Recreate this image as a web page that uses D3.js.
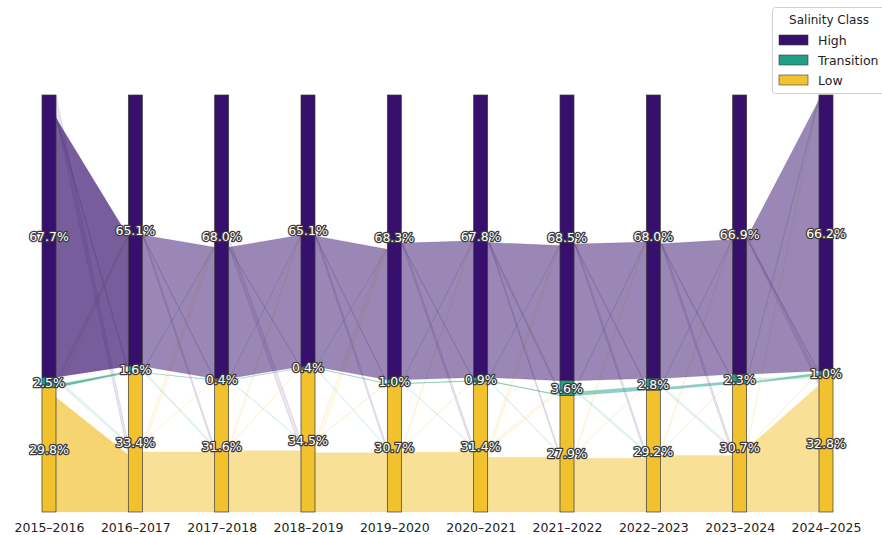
<!DOCTYPE html>
<html>
<head>
<meta charset="utf-8">
<script src="https://cdn.jsdelivr.net/npm/d3@7"></script>
<style>
  html, body { margin: 0; padding: 0; background: #fff; }
  svg { display: block; font-family: "DejaVu Sans", Arial, sans-serif; }
</style>
</head>
<body>
<svg id="chart" width="882" height="535"></svg>
<script>
// Share of area (%) in each salinity class, per hydrological year
const years = ["2015–2016", "2016–2017", "2017–2018", "2018–2019", "2019–2020",
               "2020–2021", "2021–2022", "2022–2023", "2023–2024", "2024–2025"];
const classes = ["High", "Transition", "Low"];
const highPct       = [67.7, 65.1, 68.0, 65.1, 68.3, 67.8, 68.5, 68.0, 66.9, 66.2];
const transitionPct = [2.5, 1.6, 0.4, 0.4, 1.0, 0.9, 3.6, 2.8, 2.3, 1.0];
const lowPct        = [29.8, 33.4, 31.6, 34.5, 30.7, 31.4, 27.9, 29.2, 30.7, 32.8];

// Year-to-year class changes (% of area), one row per consecutive pair:
// [H→H, H→T, H→L,  T→H, T→T, T→L,  L→H, L→T, L→L]
const transitions = [
  [62.2, 0.6, 4.9,  0.9, 0.7, 0.9,  2.0, 0.3, 27.5],
  [63.0, 0.1, 2.0,  0.5, 0.2, 0.9,  4.5, 0.1, 28.8],
  [63.0, 0.1, 4.9,  0.1, 0.1, 0.2,  2.0, 0.2, 29.4],
  [62.6, 0.3, 2.2,  0.1, 0.2, 0.1,  5.6, 0.5, 28.4],
  [65.6, 0.2, 2.5,  0.5, 0.3, 0.2,  1.7, 0.4, 28.6],
  [64.8, 1.5, 1.5,  0.3, 0.4, 0.2,  3.4, 1.7, 26.3],
  [65.5, 0.6, 2.4,  0.8, 1.8, 1.0,  1.7, 0.4, 25.8],
  [64.6, 0.8, 2.6,  0.5, 1.2, 1.1,  1.8, 0.3, 27.1],
  [65.0, 0.2, 1.7,  1.0, 0.6, 0.7,  0.2, 0.2, 30.3]
];

const colors = { High: "#36106c", Transition: "#22a087", Low: "#f2c12e" };

const svg = d3.select("#chart");
const barW = 14;

const x = d3.scalePoint().domain(years).range([49, 826]);
const y = d3.scaleLinear().domain([0, 100]).range([95, 512]);
const color = d3.scaleOrdinal().domain(classes).range(classes.map(c => colors[c]));

const series = [highPct, transitionPct, lowPct];

// Stacked segments per column (High on top), normalised to 100 %
const nodes = years.map((yr, c) => {
  const vals = series.map(s => s[c]);
  const total = d3.sum(vals);
  let acc = 0;
  return vals.map((v, k) => {
    const seg = { year: yr, col: c, k, cls: classes[k], value: v,
                  y0: y(acc / total * 100), y1: y((acc + v) / total * 100),
                  out: [], in: [] };
    acc += v;
    return seg;
  });
});

// Links between consecutive columns
const links = [];
transitions.forEach((row, p) => {
  for (let i = 0; i < 3; i++) {
    for (let j = 0; j < 3; j++) {
      const link = { pair: p, s: nodes[p][i], t: nodes[p + 1][j], value: row[i * 3 + j] };
      links.push(link);
      nodes[p][i].out.push(link);
      nodes[p + 1][j].in.push(link);
    }
  }
});

// Within each segment, flows stack upward from the segment's bottom edge,
// the same-class flow first; a segment's height is shared by in- and outflow.
nodes.flat().forEach(n => {
  const through = d3.sum(n.out, l => l.value) + d3.sum(n.in, l => l.value);
  const scale = (n.y1 - n.y0) / through;
  const order = arr => arr.slice().sort((a, b) => {
    const ka = (a.s === n ? a.t.k : a.s.k), kb = (b.s === n ? b.t.k : b.s.k);
    const ra = ka === n.k ? -1 : ka, rb = kb === n.k ? -1 : kb;
    return ra - rb;
  });
  let base = n.y1;
  order(n.out).forEach(l => { l.sy1 = base; base -= l.value * scale; l.sy0 = base; });
  base = n.y1;
  order(n.in).forEach(l => { l.ty1 = base; base -= l.value * scale; l.ty0 = base; });
});

const persistent = l => l.s.k === l.t.k;
const linkOpacity = l => {
  if (!persistent(l)) return 0.1;
  return l.pair === 0 ? 0.68 : 0.5;
};

// Cross-class flows under the persistent ones
const sortedLinks = links.slice().sort((a, b) => persistent(a) - persistent(b));

svg.append("g").attr("class", "links")
  .selectAll("path")
  .data(sortedLinks)
  .join("path")
  .attr("d", l => {
    const xs = x(l.s.year) + barW / 2, xt = x(l.t.year) - barW / 2;
    const p = d3.path();
    p.moveTo(xs, l.sy0);
    p.lineTo(xt, l.ty0);
    p.lineTo(xt, l.ty1);
    p.lineTo(xs, l.sy1);
    p.closePath();
    return p.toString();
  })
  .attr("fill", l => color(l.s.cls))
  .attr("fill-opacity", linkOpacity)
  .attr("stroke", l => color(l.s.cls))
  .attr("stroke-opacity", l => persistent(l) ? 0.25 : 0.22)
  .attr("stroke-width", 0.5);

// Stacked bars
svg.append("g").attr("class", "bars")
  .selectAll("rect")
  .data(nodes.flat())
  .join("rect")
  .attr("x", n => x(n.year) - barW / 2)
  .attr("y", n => n.y0)
  .attr("width", barW)
  .attr("height", n => n.y1 - n.y0)
  .attr("fill", n => color(n.cls))
  .attr("stroke", "#3a3a3a")
  .attr("stroke-width", 0.7);

// Percentage labels
svg.append("g").attr("class", "labels")
  .selectAll("text")
  .data(nodes.flat())
  .join("text")
  .attr("x", n => x(n.year))
  .attr("y", n => (n.y0 + n.y1) / 2)
  .attr("text-anchor", "middle")
  .attr("dominant-baseline", "central")
  .attr("font-size", 12.5)
  .attr("fill", "#fff")
  .attr("stroke", "#3c3c3c")
  .attr("stroke-width", 2.6)
  .attr("stroke-linejoin", "round")
  .attr("paint-order", "stroke")
  .text(n => n.value.toFixed(1) + "%");

// Year axis
const xAxis = svg.append("g")
  .attr("transform", "translate(0,512)")
  .call(d3.axisBottom(x).tickSize(0).tickPadding(11));
xAxis.select(".domain").remove();
xAxis.selectAll("text")
  .attr("font-family", "DejaVu Sans, Arial, sans-serif")
  .attr("font-size", 12.5)
  .attr("fill", "#222");

// Legend
const legend = svg.append("g").attr("class", "legend");
legend.append("rect")
  .attr("x", 772.5).attr("y", 7.5).attr("width", 120).attr("height", 86)
  .attr("rx", 3)
  .attr("fill", "#fff").attr("fill-opacity", 0.85)
  .attr("stroke", "#d0d0d0");
legend.append("text")
  .attr("x", 829).attr("y", 20)
  .attr("text-anchor", "middle").attr("dominant-baseline", "central")
  .attr("font-size", 12).attr("fill", "#222")
  .text("Salinity Class");
const entry = legend.selectAll("g.entry")
  .data(classes)
  .join("g")
  .attr("class", "entry")
  .attr("transform", (d, i) => `translate(0,${40 + i * 20})`);
entry.append("rect")
  .attr("x", 779).attr("y", -5).attr("width", 29).attr("height", 10)
  .attr("fill", d => color(d))
  .attr("stroke", "#3a3a3a").attr("stroke-width", 0.6);
entry.append("text")
  .attr("x", 818).attr("y", 0)
  .attr("dominant-baseline", "central")
  .attr("font-size", 12.5).attr("fill", "#222")
  .text(d => d);
</script>
</body>
</html>
